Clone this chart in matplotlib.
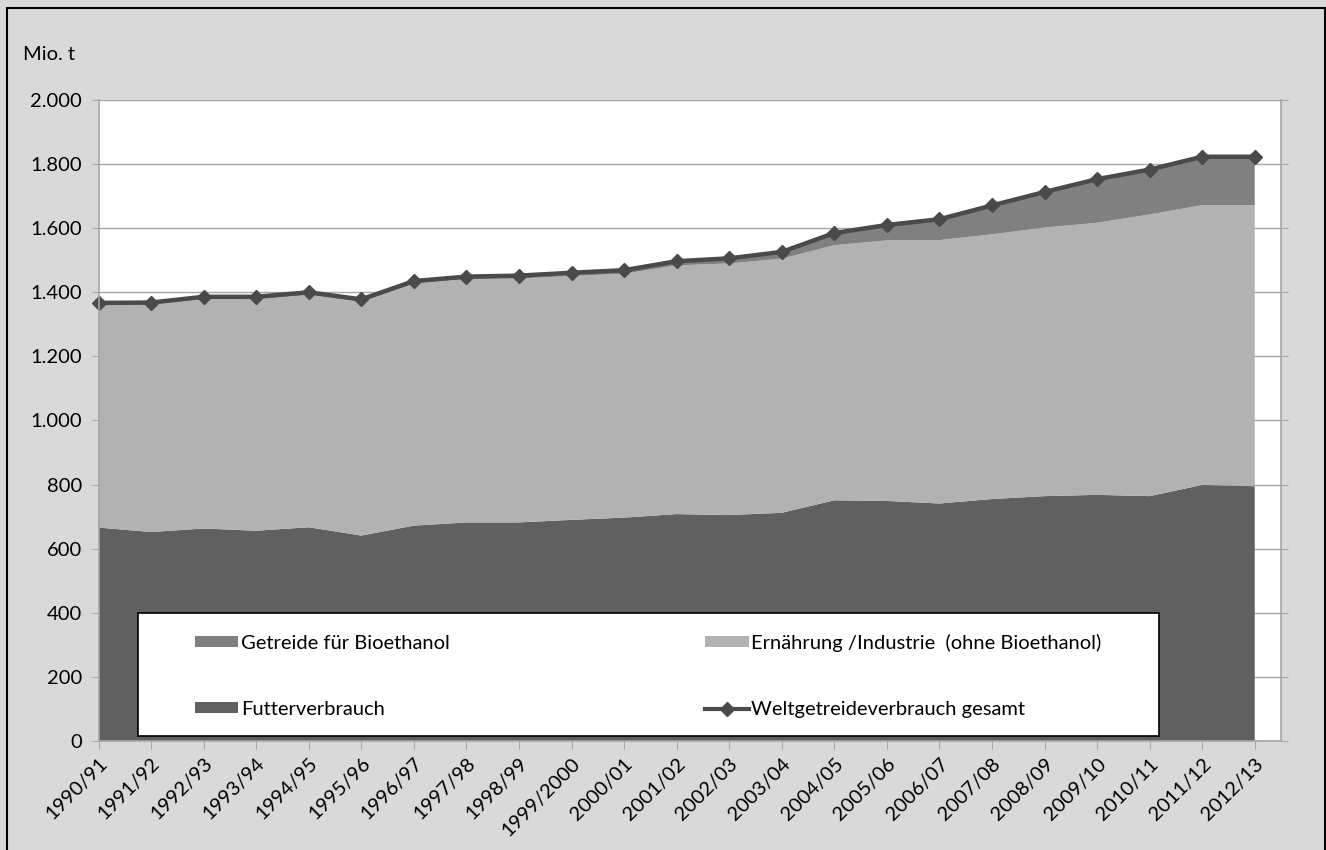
import matplotlib
matplotlib.use("Agg")
import matplotlib.pyplot as plt
from matplotlib.patches import Rectangle, Patch
from matplotlib.lines import Line2D
from matplotlib.ticker import FuncFormatter
import numpy as np

plt.rcParams['font.family'] = ['Lato', 'DejaVu Sans']

years = ["1990/91", "1991/92", "1992/93", "1993/94", "1994/95", "1995/96",
         "1996/97", "1997/98", "1998/99", "1999/2000", "2000/01", "2001/02",
         "2002/03", "2003/04", "2004/05", "2005/06", "2006/07", "2007/08",
         "2008/09", "2009/10", "2010/11", "2011/12", "2012/13"]

futter = [666, 652, 663, 656, 667, 641, 672, 682, 682, 690, 697, 708,
          705, 712, 751, 749, 741, 755, 764, 768, 764, 799, 795]
bioethanol = [7, 7, 7, 8, 8, 8, 8, 8, 9, 10, 11, 13,
              16, 21, 38, 48, 65, 90, 111, 136, 140, 151, 151]
gesamt = [1367, 1368, 1386, 1386, 1400, 1378, 1435, 1449, 1452, 1461, 1469, 1497,
          1506, 1526, 1585, 1610, 1628, 1671, 1713, 1753, 1783, 1823, 1823]
ernaehrung = [g - f - b for g, f, b in zip(gesamt, futter, bioethanol)]

labels = ["Getreide für Bioethanol", "Ernährung /Industrie  (ohne Bioethanol)",
          "Futterverbrauch", "Weltgetreideverbrauch gesamt"]

c_futter = "#606060"
c_ern = "#b2b2b2"
c_bio = "#808080"
c_line = "#4a4a4a"
bg = "#d9d9d9"
grid_c = "#a6a6a6"
FS = 14.5

W, H = 1326, 850
fig = plt.figure(figsize=(W / 100, H / 100), dpi=100, facecolor=bg)
L, R, T, B = 98.5, 1281, 100, 741
ax = fig.add_axes([L / W, 1 - B / H, (R - L) / W, (B - T) / H])
ax.set_facecolor("white")

x = np.arange(len(years))
ax.stackplot(x, futter, ernaehrung, bioethanol,
             colors=[c_futter, c_ern, c_bio], linewidth=0, zorder=2)
ax.plot(x, gesamt, color=c_line, lw=3.2, marker="D", markersize=7.5,
        markeredgecolor=c_line, markerfacecolor=c_line, zorder=3, clip_on=False)

ax.set_xlim(0, 22.5)
ax.set_ylim(0, 2000)
ax.set_yticks(np.arange(0, 2001, 200))
ax.yaxis.set_major_formatter(FuncFormatter(lambda v, p: f"{int(v):,}".replace(",", ".")))
ax.grid(axis="y", color=grid_c, lw=1, zorder=1)
ax.set_axisbelow(True)

ax.spines["top"].set_visible(False)
for s in ["left", "right", "bottom"]:
    ax.spines[s].set_color(grid_c)
    ax.spines[s].set_linewidth(1.2)
    ax.spines[s].set_zorder(4)

ax.tick_params(axis="y", which="both", left=True, right=True, direction="out",
               length=5, color=grid_c, labelsize=FS, pad=7, labelcolor="black")
ax.set_xticks(x)
ax.set_xticklabels(years, rotation=45, ha="right", rotation_mode="anchor")
ax.tick_params(axis="x", direction="out", length=6, color=grid_c,
               labelsize=FS, pad=4, labelcolor="black")

fig.text(23 / W, 1 - 55 / H, "Mio. t", fontsize=FS, va="center", ha="left")

# legend box
lx0, ly0, lx1, ly1 = 138, 613, 1159, 736
box = Rectangle((lx0 / W, 1 - ly1 / H), (lx1 - lx0) / W, (ly1 - ly0) / H,
                transform=fig.transFigure, facecolor="white", edgecolor="black",
                lw=1.2, zorder=5)
fig.patches.append(box)

handles = [Patch(facecolor=c_bio, edgecolor="none"),
           Patch(facecolor=c_ern, edgecolor="none"),
           Patch(facecolor=c_futter, edgecolor="none"),
           Line2D([], [], color=c_line, lw=3, marker="D", markersize=7)]
order = [0, 2, 1, 3]
leg = fig.legend([handles[i] for i in order], [labels[i] for i in order],
                 loc="upper left", bbox_to_anchor=(195 / W, 1 - 634 / H),
                 ncol=2, frameon=False, fontsize=FS,
                 handlelength=2.15, handleheight=0.45, handletextpad=0.12,
                 columnspacing=12.7, labelspacing=2.42, borderpad=0,
                 borderaxespad=0)
leg.set_zorder(6)

# outer frame
frame = Rectangle((7 / W, -0.05), (1325 - 7) / W, 1 - 8 / H + 0.05,
                  transform=fig.transFigure, facecolor="none", edgecolor="black",
                  lw=1.5, zorder=10)
fig.patches.append(frame)

fig.savefig("out.png", dpi=100, facecolor=bg)
